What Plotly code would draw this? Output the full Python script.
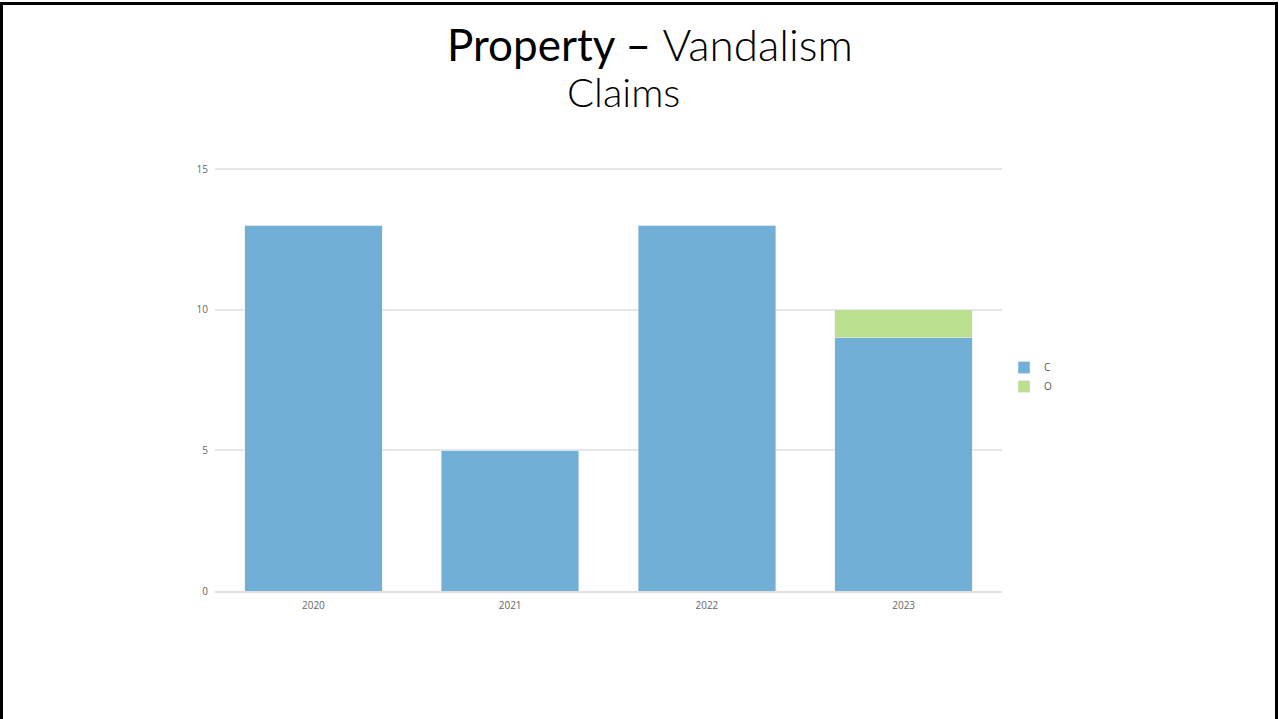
import plotly.graph_objects as go

# Datos del gráfico
anhos = ['2020', '2021', '2022', '2023']
cerrados = [13, 5, 13, 9]   # C
abiertos = [0, 0, 0, 1]     # O

azul = '#72AFD7'
verde = '#BBE190'

W, H = 1279, 719
ml, mr, mt, mb = 215, 1279 - 1002, 168, 719 - 591
pw, ph = W - ml - mr, H - mt - mb


def px_x(x):
    return (x - ml) / pw


def px_y(y):
    return (H - mb - y) / ph


fig = go.Figure()
fig.add_trace(go.Bar(x=anhos, y=cerrados, name='C', marker_color=azul))
fig.add_trace(go.Bar(x=anhos, y=abiertos, name='O', marker_color=verde))

fig.update_layout(
    barmode='stack',
    bargap=0.3,
    width=W, height=H,
    margin=dict(l=ml, r=mr, t=mt, b=mb),
    paper_bgcolor='white',
    plot_bgcolor='white',
    font=dict(family='Open Sans', color='#666666', size=10),
    showlegend=True,
    legend=dict(x=px_x(1004), y=px_y(377), xanchor='left', yanchor='middle',
                traceorder='normal', font=dict(size=10, color='#555555'),
                itemwidth=30, tracegroupgap=0),
)

fig.update_yaxes(range=[0, 15.04], tickvals=[0, 5, 10, 15], showgrid=True,
                 gridcolor='#E6E6E6', gridwidth=2, zeroline=False,
                 showline=False, ticks='', ticklabelstandoff=6)
fig.update_xaxes(showline=True, linecolor='#E0E0E0', linewidth=2,
                 ticks='', ticklabelstandoff=4)

# Título
fig.add_annotation(x=px_x(650), y=px_y(44), xref='paper', yref='paper',
                   xanchor='center', yanchor='middle',
                   text='Property – <span style="font-weight:300">Vandalism</span>',
                   showarrow=False, font=dict(family='Lato', size=44, color='black'))
fig.add_annotation(x=px_x(623), y=px_y(92), xref='paper', yref='paper',
                   xanchor='center', yanchor='middle',
                   text='<span style="font-weight:300">Claims</span>',
                   showarrow=False, font=dict(family='Lato', size=40, color='black'))

# Marco de la diapositiva (sin borde inferior)
fig.add_shape(type='path', xref='paper', yref='paper',
              path=f'M {px_x(1.5)},{px_y(740)} L {px_x(1.5)},{px_y(3.5)} '
                   f'L {px_x(1276.5)},{px_y(3.5)} L {px_x(1276.5)},{px_y(740)}',
              line=dict(color='black', width=3), layer='above')

# quitar el margen del body para que la figura empiece en (0, 0)
fig.write_html('out.html', config={'displayModeBar': False},
               post_script="document.body.style.margin='0';")
